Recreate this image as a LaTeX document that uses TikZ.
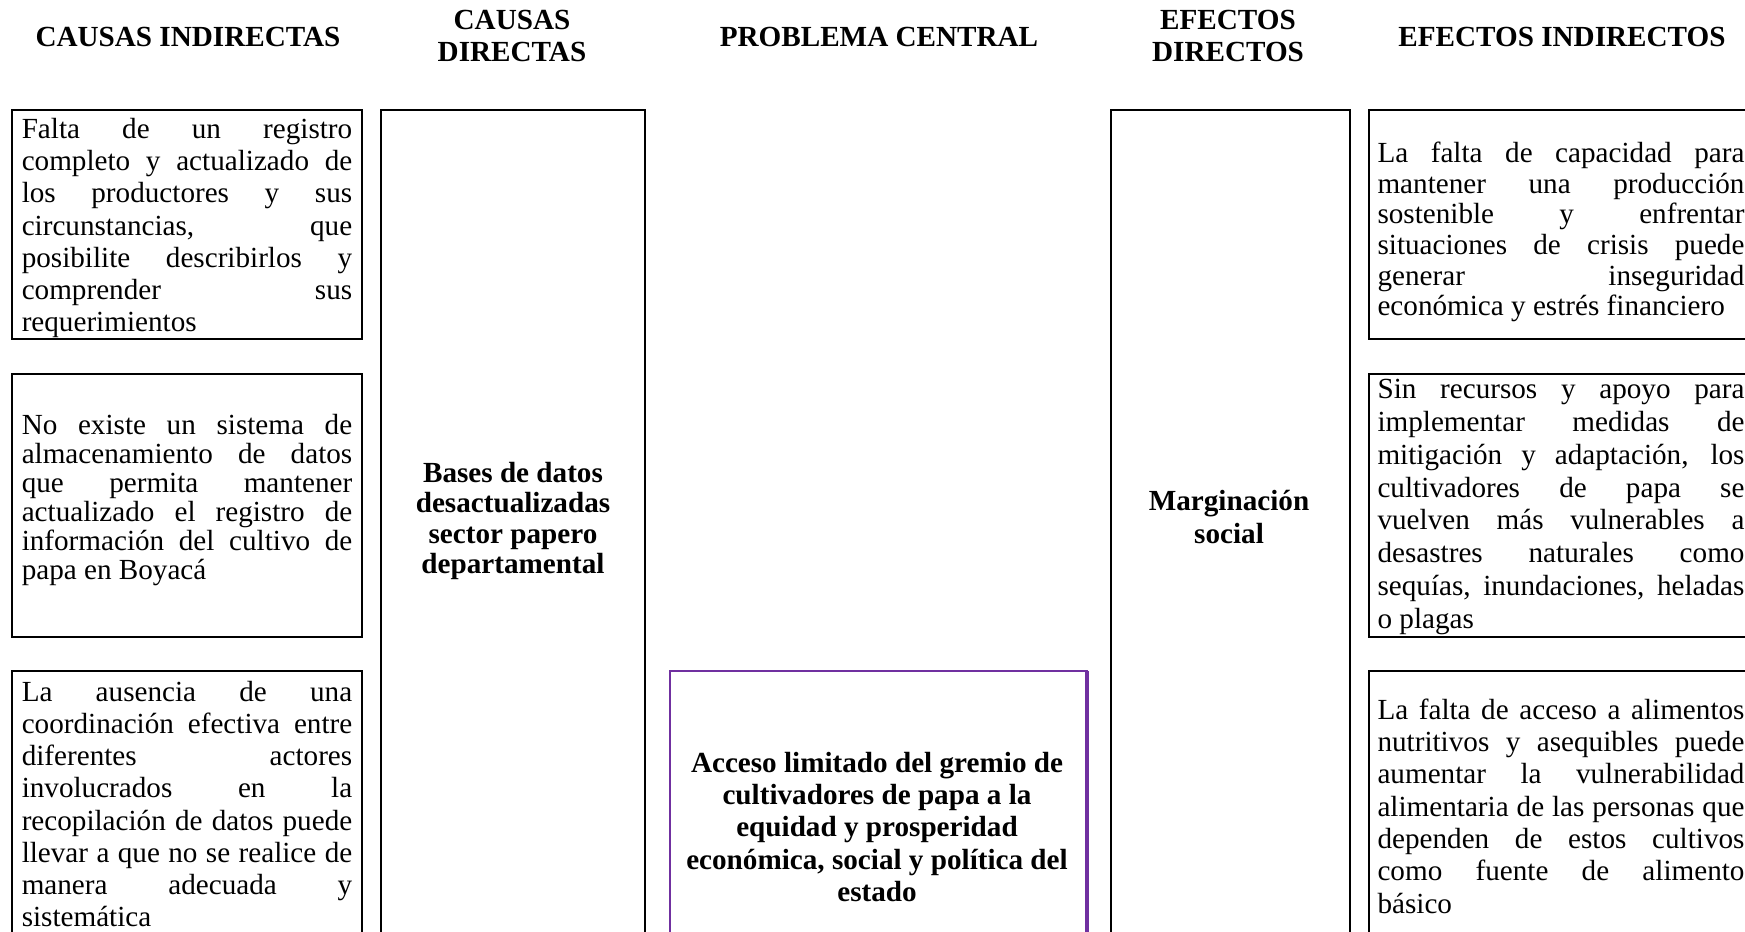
\documentclass[tikz,border=0pt]{standalone}
\usepackage{fontspec}
\setmainfont{Liberation Serif}
\definecolor{morado}{HTML}{7030A0}
\tolerance=10000
\hyphenpenalty=10000
\hbadness=10000
\tikzset{caja/.style={draw,line width=1pt}}
\tikzset{cajapc/.style={draw=morado,line width=0.9pt}}
\tikzset{titulo/.style={font=\bfseries\fontsize{12}{13.2}\selectfont,align=center,inner sep=0pt}}
\tikzset{resaltado/.style={font=\bfseries\fontsize{12}{#1}\selectfont,align=center,inner sep=0pt},resaltado/.default=13.2}
\tikzset{parrafo/.style={font=\fontsize{12}{#1}\selectfont,text width=136pt,align=justify,inner sep=0pt},parrafo/.default=12}
\tikzset{parrafoder/.style={parrafo=#1,text width=151pt},parrafoder/.default=12}

\begin{document}
\begin{tikzpicture}[x=0.4115pt,y=-0.4115pt]
        % marco de la figura
        \useasboundingbox (0,0) rectangle (1745,932);
        \clip (0,0) rectangle (1745,932);
        % titulos de las columnas
        \node[titulo] (tci) at (188,37) {CAUSAS INDIRECTAS};
        \node[titulo] (tcd) at (512,36) {CAUSAS\\DIRECTAS};
        \node[titulo] (tpc) at (879,37) {PROBLEMA CENTRAL};
        \node[titulo] (ted) at (1228,36) {EFECTOS\\DIRECTOS};
        \node[titulo] (tei) at (1562,37) {EFECTOS INDIRECTOS};
        % causas indirectas
        \draw[caja] (12,110) rectangle (362,339);
        \draw[caja] (12,374) rectangle (362,637);
        \draw[caja] (12,671) rectangle (362,960);
        \node[parrafo=13.3] (ci1) at (187,228) {Falta de un registro\linebreak completo y actualizado de\linebreak los productores y sus\linebreak circunstancias, que\linebreak posibilite describirlos y\linebreak comprender sus\linebreak requerimientos};
        \node[parrafo] (ci2) at (187,500) {No existe un sistema de\linebreak almacenamiento de datos\linebreak que permita mantener\linebreak actualizado el registro de\linebreak información del cultivo de\linebreak papa en Boyacá};
        \node[parrafo=13.2] (ci3) at (187,804) {La ausencia de una\linebreak coordinación efectiva entre\linebreak diferentes actores\linebreak involucrados en la\linebreak recopilación de datos puede\linebreak llevar a que no se realice de\linebreak manera adecuada y\linebreak sistemática};
        % causa directa
        \draw[caja] (381,110) rectangle (645,960);
        \node[resaltado=12.4] (cd) at (513,521) {Bases de datos\\desactualizadas\\sector papero\\departamental};
        % problema central
        \draw[cajapc] (670,671) rectangle (1087,960);
        \draw[morado,line width=1.6pt] (1087,671) -- (1087,960);
        \node[resaltado] (pc) at (877,827) {Acceso limitado del gremio de\\cultivadores de papa a la\\equidad y prosperidad\\económica, social y política del\\estado};
        % efecto directo
        \draw[caja] (1111,110) rectangle (1350,960);
        \node[resaltado] (ed) at (1229,517) {Marginación\\social};
        % efectos indirectos
        \draw[caja] (1369,110) rectangle (1760,339);
        \draw[caja] (1369,374) rectangle (1760,637);
        \draw[caja] (1369,671) rectangle (1760,960);
        \node[parrafoder=12.6] (ei1) at (1561,232) {La falta de capacidad para\linebreak mantener una producción\linebreak sostenible y enfrentar\linebreak situaciones de crisis puede\linebreak generar inseguridad\linebreak económica y estrés financiero};
        \node[parrafoder=13.5] (ei2) at (1561,507) {Sin recursos y apoyo para\linebreak implementar medidas de\linebreak mitigación y adaptación, los\linebreak cultivadores de papa se\linebreak vuelven más vulnerables a\linebreak desastres naturales como\linebreak sequías, inundaciones, heladas\linebreak o plagas};
        \node[parrafoder=13.3] (ei3) at (1561,806) {La falta de acceso a alimentos\linebreak nutritivos y asequibles puede\linebreak aumentar la vulnerabilidad\linebreak alimentaria de las personas que\linebreak dependen de estos cultivos\linebreak como fuente de alimento\linebreak básico};
\end{tikzpicture}
\end{document}
